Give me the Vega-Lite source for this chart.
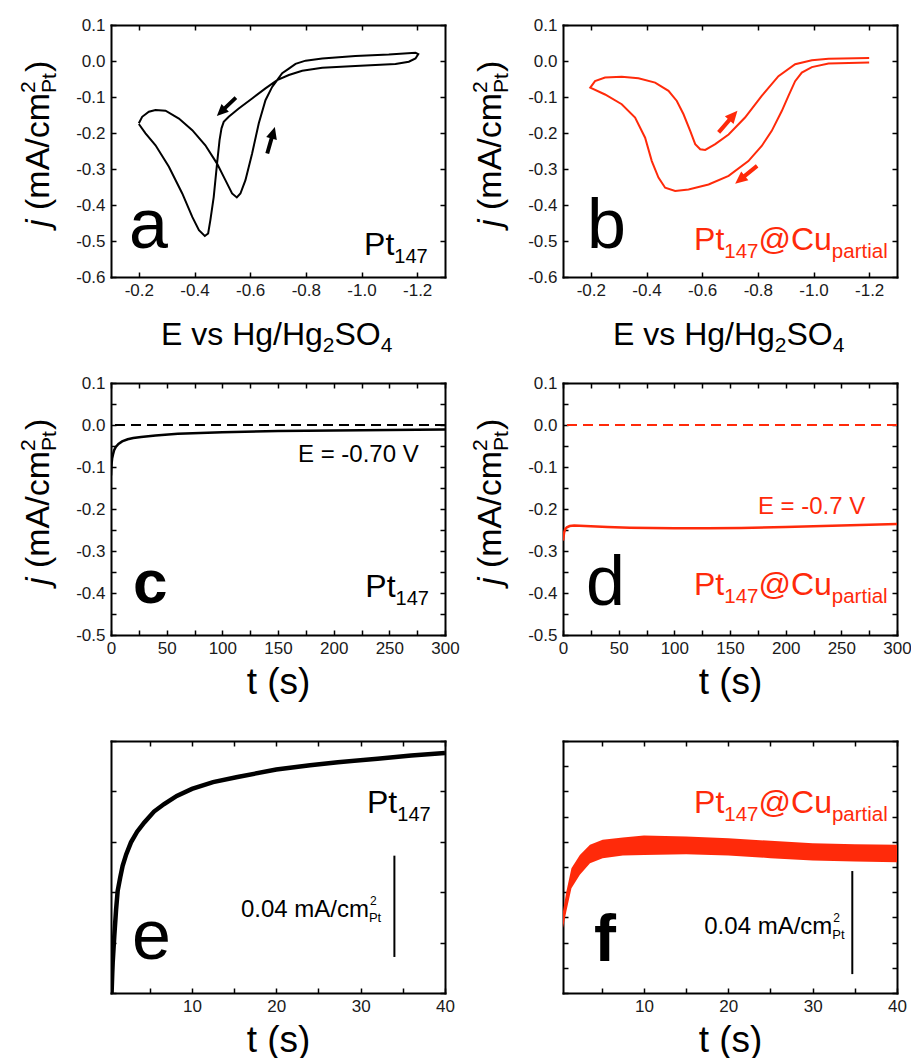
{
"$schema":"https://vega.github.io/schema/vega-lite/v6.json",
"padding":{"left":17,"top":16,"right":0,"bottom":0},
"config":{
 "view":{"stroke":null},
 "font":"Liberation Sans",
 "text":{"font":"Liberation Sans","baseline":"alphabetic","align":"left","color":"black"},
 "point":{"opacity":1,"filled":true},
 "axis":{"domainColor":"black","domainWidth":2,"domainCap":"square","tickColor":"black","tickWidth":1.5,"tickSize":-5,"labelFont":"Liberation Sans","labelFontSize":17,"labelColor":"#1a1a1a","labelFlush":false,"labelOverlap":false,"grid":false,"titleFont":"Liberation Sans","titleFontSize":37,"titleFontWeight":"normal","titleColor":"black","titlePadding":8},
 "axisX":{"labelPadding":10},
 "axisY":{"labelPadding":11}
},
"datasets":{
 "cvA":[{"i":1,"E":-0.2,"j":-0.173},{"i":2,"E":-0.212,"j":-0.155},{"i":3,"E":-0.236,"j":-0.141},{"i":4,"E":-0.26,"j":-0.136},{"i":5,"E":-0.296,"j":-0.138},{"i":6,"E":-0.344,"j":-0.16},{"i":7,"E":-0.392,"j":-0.192},{"i":8,"E":-0.439,"j":-0.234},{"i":9,"E":-0.481,"j":-0.285},{"i":10,"E":-0.511,"j":-0.331},{"i":11,"E":-0.535,"j":-0.368},{"i":12,"E":-0.552,"j":-0.379},{"i":13,"E":-0.565,"j":-0.368},{"i":14,"E":-0.583,"j":-0.331},{"i":15,"E":-0.607,"j":-0.257},{"i":16,"E":-0.631,"j":-0.173},{"i":17,"E":-0.655,"j":-0.109},{"i":18,"E":-0.679,"j":-0.072},{"i":19,"E":-0.697,"j":-0.053},{"i":20,"E":-0.715,"j":-0.034},{"i":21,"E":-0.739,"j":-0.021},{"i":22,"E":-0.763,"j":-0.008},{"i":23,"E":-0.799,"j":0.001},{"i":24,"E":-0.859,"j":0.007},{"i":25,"E":-0.978,"j":0.014},{"i":26,"E":-1.098,"j":0.018},{"i":27,"E":-1.194,"j":0.023},{"i":28,"E":-1.204,"j":0.019},{"i":29,"E":-1.194,"j":0.007},{"i":30,"E":-1.17,"j":-0.002},{"i":31,"E":-1.122,"j":-0.008},{"i":32,"E":-0.978,"j":-0.014},{"i":33,"E":-0.859,"j":-0.019},{"i":34,"E":-0.787,"j":-0.027},{"i":35,"E":-0.739,"j":-0.039},{"i":36,"E":-0.697,"j":-0.053},{"i":37,"E":-0.655,"j":-0.076},{"i":38,"E":-0.607,"j":-0.104},{"i":39,"E":-0.559,"j":-0.132},{"i":40,"E":-0.523,"j":-0.155},{"i":41,"E":-0.505,"j":-0.169},{"i":42,"E":-0.497,"j":-0.187},{"i":43,"E":-0.49,"j":-0.22},{"i":44,"E":-0.481,"j":-0.285},{"i":45,"E":-0.469,"j":-0.378},{"i":46,"E":-0.457,"j":-0.442},{"i":47,"E":-0.449,"j":-0.479},{"i":48,"E":-0.437,"j":-0.486},{"i":49,"E":-0.416,"j":-0.47},{"i":50,"E":-0.392,"j":-0.433},{"i":51,"E":-0.356,"j":-0.368},{"i":52,"E":-0.308,"j":-0.294},{"i":53,"E":-0.26,"j":-0.234},{"i":54,"E":-0.224,"j":-0.201},{"i":55,"E":-0.2,"j":-0.175}],
 "cvB":[{"i":1,"E":-1.2,"j":0.008},{"i":2,"E":-1.054,"j":0.006},{"i":3,"E":-0.994,"j":0.002},{"i":4,"E":-0.934,"j":-0.009},{"i":5,"E":-0.874,"j":-0.042},{"i":6,"E":-0.814,"j":-0.097},{"i":7,"E":-0.754,"j":-0.157},{"i":8,"E":-0.695,"j":-0.204},{"i":9,"E":-0.647,"j":-0.231},{"i":10,"E":-0.611,"j":-0.247},{"i":11,"E":-0.593,"j":-0.245},{"i":12,"E":-0.575,"j":-0.231},{"i":13,"E":-0.557,"j":-0.194},{"i":14,"E":-0.533,"j":-0.148},{"i":15,"E":-0.509,"j":-0.111},{"i":16,"E":-0.479,"j":-0.083},{"i":17,"E":-0.431,"j":-0.06},{"i":18,"E":-0.371,"j":-0.048},{"i":19,"E":-0.311,"j":-0.044},{"i":20,"E":-0.251,"j":-0.046},{"i":21,"E":-0.215,"j":-0.056},{"i":22,"E":-0.198,"j":-0.074},{"i":23,"E":-0.251,"j":-0.093},{"i":24,"E":-0.311,"j":-0.12},{"i":25,"E":-0.359,"j":-0.157},{"i":26,"E":-0.395,"j":-0.213},{"i":27,"E":-0.419,"j":-0.278},{"i":28,"E":-0.443,"j":-0.324},{"i":29,"E":-0.467,"j":-0.352},{"i":30,"E":-0.503,"j":-0.361},{"i":31,"E":-0.551,"j":-0.357},{"i":32,"E":-0.623,"j":-0.343},{"i":33,"E":-0.695,"j":-0.319},{"i":34,"E":-0.766,"j":-0.278},{"i":35,"E":-0.814,"j":-0.236},{"i":36,"E":-0.85,"j":-0.194},{"i":37,"E":-0.886,"j":-0.139},{"i":38,"E":-0.91,"j":-0.097},{"i":39,"E":-0.934,"j":-0.056},{"i":40,"E":-0.958,"j":-0.032},{"i":41,"E":-0.994,"j":-0.017},{"i":42,"E":-1.054,"j":-0.007},{"i":43,"E":-1.2,"j":-0.004}],
 "caC":[{"t":0,"j":-0.12},{"t":0.3,"j":-0.1},{"t":0.6,"j":-0.09},{"t":1,"j":-0.08},{"t":1.8,"j":-0.07},{"t":2.8,"j":-0.06},{"t":4.3,"j":-0.052},{"t":6.7,"j":-0.045},{"t":10,"j":-0.039},{"t":15,"j":-0.034},{"t":20,"j":-0.031},{"t":27,"j":-0.0284},{"t":40,"j":-0.025},{"t":60,"j":-0.021},{"t":80,"j":-0.019},{"t":100,"j":-0.017},{"t":150,"j":-0.0145},{"t":200,"j":-0.013},{"t":250,"j":-0.012},{"t":300,"j":-0.011}],
 "caD":[{"t":0,"j":-0.275},{"t":0.5,"j":-0.265},{"t":1,"j":-0.256},{"t":2,"j":-0.248},{"t":3.5,"j":-0.2435},{"t":6,"j":-0.2405},{"t":10,"j":-0.2395},{"t":20,"j":-0.2405},{"t":40,"j":-0.243},{"t":60,"j":-0.2445},{"t":80,"j":-0.2455},{"t":100,"j":-0.246},{"t":130,"j":-0.246},{"t":160,"j":-0.245},{"t":200,"j":-0.243},{"t":250,"j":-0.2395},{"t":300,"j":-0.236}],
 "zoomE":[{"t":0.45,"j":-0.122},{"t":0.55,"j":-0.112},{"t":0.6,"j":-0.108},{"t":0.79,"j":-0.0974},{"t":1.0,"j":-0.087},{"t":1.19,"j":-0.0795},{"t":1.5,"j":-0.074},{"t":1.78,"j":-0.0695},{"t":2.2,"j":-0.065},{"t":2.77,"j":-0.0602},{"t":3.5,"j":-0.056},{"t":4.35,"j":-0.0523},{"t":5.5,"j":-0.048},{"t":6.7,"j":-0.045},{"t":8.2,"j":-0.0418},{"t":10,"j":-0.039},{"t":12.5,"j":-0.0363},{"t":15.4,"j":-0.0343},{"t":20,"j":-0.0313},{"t":24,"j":-0.0296},{"t":27.3,"j":-0.0284},{"t":32,"j":-0.027},{"t":36,"j":-0.0258},{"t":40,"j":-0.0248}],
 "zoomF":[{"t":0.4,"hi":-0.2676,"lo":-0.2742},{"t":0.8,"hi":-0.2597,"lo":-0.2676},{"t":1.4,"hi":-0.2505,"lo":-0.2584},{"t":2.4,"hi":-0.2452,"lo":-0.2531},{"t":3.6,"hi":-0.2412,"lo":-0.2485},{"t":5.1,"hi":-0.2392,"lo":-0.2465},{"t":7.5,"hi":-0.2383,"lo":-0.2454},{"t":10,"hi":-0.2375,"lo":-0.2452},{"t":15,"hi":-0.2379,"lo":-0.2449},{"t":20,"hi":-0.2386,"lo":-0.2454},{"t":25,"hi":-0.2396,"lo":-0.2465},{"t":30,"hi":-0.2406,"lo":-0.2474},{"t":35,"hi":-0.241,"lo":-0.2478},{"t":40,"hi":-0.2412,"lo":-0.2481}]
},
"columns":2,
"spacing":{"row":106,"column":118},
"bounds":"flush",
"concat":[
{
 "width":334,"height":252,"data":{"values":[{}]},
 "resolve":{"axis":{"x":"independent","y":"independent"}},
 "layer":[
  {"data":{"name":"cvA"},"mark":{"type":"line","color":"black","strokeWidth":2,"clip":true},
   "encoding":{
    "x":{"field":"E","type":"quantitative","scale":{"domain":[-1.3,-0.1],"reverse":true,"nice":false,"zero":false},"axis":{"orient":"bottom","values":[-1.2,-1.0,-0.8,-0.6,-0.4,-0.2],"labelExpr":"replace(format(datum.value,'.1f'),'\u2212','-')","title":null}},
    "y":{"field":"j","type":"quantitative","scale":{"domain":[-0.6,0.1],"nice":false,"zero":false},"axis":{"orient":"left","values":[-0.6,-0.5,-0.4,-0.3,-0.2,-0.1,0,0.1],"labelExpr":"replace(format(datum.value,'.1f'),'\u2212','-')","title":null}},
    "order":{"field":"i","type":"quantitative"}}},
  {"mark":{"type":"text","text":"a","fontSize":70},
   "encoding":{"x":{"datum":-0.165,"type":"quantitative","axis":{"orient":"top","values":[-1.2,-1.0,-0.8,-0.6,-0.4,-0.2],"labels":false,"title":null}},"y":{"datum":-0.519,"type":"quantitative","axis":{"orient":"right","values":[-0.6,-0.5,-0.4,-0.3,-0.2,-0.1,0,0.1],"labels":false,"title":null}}}},
  {"mark":{"type":"point","shape":"arrow","size":700,"angle":226,"color":"black"},"encoding":{"x":{"datum":-0.5145,"type":"quantitative","axis":null},"y":{"datum":-0.127,"type":"quantitative","axis":null}}},
  {"mark":{"type":"point","shape":"arrow","size":760,"angle":16,"color":"black"},"encoding":{"x":{"datum":-0.675,"type":"quantitative","axis":null},"y":{"datum":-0.22,"type":"quantitative","axis":null}}},
  {"mark":{"type":"text","text":"147","fontSize":20,"align":"right","dy":8},"encoding":{"x":{"datum":-1.238,"type":"quantitative","axis":null},"y":{"datum":-0.539,"type":"quantitative","axis":null}}},
  {"mark":{"type":"text","text":"Pt","fontSize":32,"align":"right","dx":-33.4},"encoding":{"x":{"datum":-1.238,"type":"quantitative","axis":null},"y":{"datum":-0.539,"type":"quantitative","axis":null}}},
  {"mark":{"type":"text","text":"j","fontSize":34,"fontStyle":"italic","angle":270},"encoding":{"x":{"datum":0.1228,"type":"quantitative","axis":null},"y":{"datum":-0.461,"type":"quantitative","axis":null}}},
  {"mark":{"type":"text","text":"(mA/cm","fontSize":34,"angle":270,"dx":17},"encoding":{"x":{"datum":0.1228,"type":"quantitative","axis":null},"y":{"datum":-0.461,"type":"quantitative","axis":null}}},
  {"mark":{"type":"text","text":"2","fontSize":21,"angle":270,"dx":134,"dy":-14},"encoding":{"x":{"datum":0.1228,"type":"quantitative","axis":null},"y":{"datum":-0.461,"type":"quantitative","axis":null}}},
  {"mark":{"type":"text","text":"Pt","fontSize":21,"angle":270,"dx":134,"dy":7},"encoding":{"x":{"datum":0.1228,"type":"quantitative","axis":null},"y":{"datum":-0.461,"type":"quantitative","axis":null}}},
  {"mark":{"type":"text","text":")","fontSize":34,"angle":270,"dx":155},"encoding":{"x":{"datum":0.1228,"type":"quantitative","axis":null},"y":{"datum":-0.461,"type":"quantitative","axis":null}}},
  {"mark":{"type":"text","text":"E vs Hg/Hg","fontSize":32},"encoding":{"x":{"datum":-0.2797,"type":"quantitative","axis":null},"y":{"datum":-0.789,"type":"quantitative","axis":null}}},
  {"mark":{"type":"text","text":"2","fontSize":21,"dx":161.8,"dy":7},"encoding":{"x":{"datum":-0.2797,"type":"quantitative","axis":null},"y":{"datum":-0.789,"type":"quantitative","axis":null}}},
  {"mark":{"type":"text","text":"SO","fontSize":32,"dx":173.5},"encoding":{"x":{"datum":-0.2797,"type":"quantitative","axis":null},"y":{"datum":-0.789,"type":"quantitative","axis":null}}},
  {"mark":{"type":"text","text":"4","fontSize":21,"dx":219.7,"dy":7},"encoding":{"x":{"datum":-0.2797,"type":"quantitative","axis":null},"y":{"datum":-0.789,"type":"quantitative","axis":null}}}
 ]
},
{
 "width":334,"height":252,"data":{"values":[{}]},
 "resolve":{"axis":{"x":"independent","y":"independent"}},
 "layer":[
  {"data":{"name":"cvB"},"mark":{"type":"line","color":"#ff2a0a","strokeWidth":2,"clip":true},
   "encoding":{
    "x":{"field":"E","type":"quantitative","scale":{"domain":[-1.3,-0.1],"reverse":true,"nice":false,"zero":false},"axis":{"orient":"bottom","values":[-1.2,-1.0,-0.8,-0.6,-0.4,-0.2],"labelExpr":"replace(format(datum.value,'.1f'),'\u2212','-')","title":null}},
    "y":{"field":"j","type":"quantitative","scale":{"domain":[-0.6,0.1],"nice":false,"zero":false},"axis":{"orient":"left","values":[-0.6,-0.5,-0.4,-0.3,-0.2,-0.1,0,0.1],"labelExpr":"replace(format(datum.value,'.1f'),'\u2212','-')","title":null}},
    "order":{"field":"i","type":"quantitative"}}},
  {"mark":{"type":"text","text":"b","fontSize":70},
   "encoding":{"x":{"datum":-0.186,"type":"quantitative","axis":{"orient":"top","values":[-1.2,-1.0,-0.8,-0.6,-0.4,-0.2],"labels":false,"title":null}},"y":{"datum":-0.52,"type":"quantitative","axis":{"orient":"right","values":[-0.6,-0.5,-0.4,-0.3,-0.2,-0.1,0,0.1],"labels":false,"title":null}}}},
  {"mark":{"type":"point","shape":"arrow","size":820,"angle":41,"color":"#ff2a0a"},"encoding":{"x":{"datum":-0.693,"type":"quantitative","axis":null},"y":{"datum":-0.168,"type":"quantitative","axis":null}}},
  {"mark":{"type":"point","shape":"arrow","size":800,"angle":231,"color":"#ff2a0a"},"encoding":{"x":{"datum":-0.758,"type":"quantitative","axis":null},"y":{"datum":-0.316,"type":"quantitative","axis":null}}},
  {"mark":{"type":"text","text":"partial","fontSize":20.5,"align":"right","dy":8,"color":"#ff2a0a"},"encoding":{"x":{"datum":-1.2666,"type":"quantitative","axis":null},"y":{"datum":-0.525,"type":"quantitative","axis":null}}},
  {"mark":{"type":"text","text":"@Cu","fontSize":32,"align":"right","dx":-55.8,"color":"#ff2a0a"},"encoding":{"x":{"datum":-1.2666,"type":"quantitative","axis":null},"y":{"datum":-0.525,"type":"quantitative","axis":null}}},
  {"mark":{"type":"text","text":"147","fontSize":20.5,"align":"right","dx":-129.2,"dy":8,"color":"#ff2a0a"},"encoding":{"x":{"datum":-1.2666,"type":"quantitative","axis":null},"y":{"datum":-0.525,"type":"quantitative","axis":null}}},
  {"mark":{"type":"text","text":"Pt","fontSize":32,"align":"right","dx":-163.4,"color":"#ff2a0a"},"encoding":{"x":{"datum":-1.2666,"type":"quantitative","axis":null},"y":{"datum":-0.525,"type":"quantitative","axis":null}}},
  {"mark":{"type":"text","text":"j","fontSize":34,"fontStyle":"italic","angle":270},"encoding":{"x":{"datum":0.1228,"type":"quantitative","axis":null},"y":{"datum":-0.461,"type":"quantitative","axis":null}}},
  {"mark":{"type":"text","text":"(mA/cm","fontSize":34,"angle":270,"dx":17},"encoding":{"x":{"datum":0.1228,"type":"quantitative","axis":null},"y":{"datum":-0.461,"type":"quantitative","axis":null}}},
  {"mark":{"type":"text","text":"2","fontSize":21,"angle":270,"dx":134,"dy":-14},"encoding":{"x":{"datum":0.1228,"type":"quantitative","axis":null},"y":{"datum":-0.461,"type":"quantitative","axis":null}}},
  {"mark":{"type":"text","text":"Pt","fontSize":21,"angle":270,"dx":134,"dy":7},"encoding":{"x":{"datum":0.1228,"type":"quantitative","axis":null},"y":{"datum":-0.461,"type":"quantitative","axis":null}}},
  {"mark":{"type":"text","text":")","fontSize":34,"angle":270,"dx":155},"encoding":{"x":{"datum":0.1228,"type":"quantitative","axis":null},"y":{"datum":-0.461,"type":"quantitative","axis":null}}},
  {"mark":{"type":"text","text":"E vs Hg/Hg","fontSize":32},"encoding":{"x":{"datum":-0.2797,"type":"quantitative","axis":null},"y":{"datum":-0.789,"type":"quantitative","axis":null}}},
  {"mark":{"type":"text","text":"2","fontSize":21,"dx":161.8,"dy":7},"encoding":{"x":{"datum":-0.2797,"type":"quantitative","axis":null},"y":{"datum":-0.789,"type":"quantitative","axis":null}}},
  {"mark":{"type":"text","text":"SO","fontSize":32,"dx":173.5},"encoding":{"x":{"datum":-0.2797,"type":"quantitative","axis":null},"y":{"datum":-0.789,"type":"quantitative","axis":null}}},
  {"mark":{"type":"text","text":"4","fontSize":21,"dx":219.7,"dy":7},"encoding":{"x":{"datum":-0.2797,"type":"quantitative","axis":null},"y":{"datum":-0.789,"type":"quantitative","axis":null}}}
 ]
},
{
 "width":334,"height":252,"data":{"values":[{}]},
 "resolve":{"axis":{"x":"independent","y":"independent"}},
 "layer":[
  {"data":{"name":"caC"},"mark":{"type":"line","color":"black","strokeWidth":2.5,"clip":true},
   "encoding":{
    "x":{"field":"t","type":"quantitative","scale":{"domain":[0,300],"nice":false,"zero":false},"axis":{"orient":"bottom","values":[0,25,50,75,100,125,150,175,200,225,250,275,300],"labelExpr":"datum.value % 50 === 0 ? format(datum.value,'d') : ''","title":"t (s)"}},
    "y":{"field":"j","type":"quantitative","scale":{"domain":[-0.5,0.1],"nice":false,"zero":false},"axis":{"orient":"left","values":[-0.5,-0.45,-0.4,-0.35,-0.3,-0.25,-0.2,-0.15,-0.1,-0.05,0,0.05,0.1],"labelExpr":"abs(datum.value*10-round(datum.value*10))<0.001 ? replace(format(datum.value,'.1f'),'\u2212','-') : ''","title":null}}}},
  {"mark":{"type":"rule","color":"black","strokeWidth":2,"strokeDash":[10,6]},"encoding":{"y":{"datum":0,"type":"quantitative","axis":null}}},
  {"mark":{"type":"text","text":"c","fontSize":62,"fontWeight":"bold"},
   "encoding":{"x":{"datum":19.8,"type":"quantitative","axis":{"orient":"top","values":[0,25,50,75,100,125,150,175,200,225,250,275,300],"labels":false,"title":null}},"y":{"datum":-0.424,"type":"quantitative","axis":{"orient":"right","values":[-0.5,-0.45,-0.4,-0.35,-0.3,-0.25,-0.2,-0.15,-0.1,-0.05,0,0.05,0.1],"labels":false,"title":null}}}},
  {"mark":{"type":"text","text":"E = -0.70 V","fontSize":24,"align":"right"},"encoding":{"x":{"datum":276.4,"type":"quantitative","axis":null},"y":{"datum":-0.0874,"type":"quantitative","axis":null}}},
  {"mark":{"type":"text","text":"147","fontSize":20,"align":"right","dy":8},"encoding":{"x":{"datum":285.6,"type":"quantitative","axis":null},"y":{"datum":-0.409,"type":"quantitative","axis":null}}},
  {"mark":{"type":"text","text":"Pt","fontSize":32,"align":"right","dx":-33.4},"encoding":{"x":{"datum":285.6,"type":"quantitative","axis":null},"y":{"datum":-0.409,"type":"quantitative","axis":null}}},
  {"mark":{"type":"text","text":"j","fontSize":34,"fontStyle":"italic","angle":270},"encoding":{"x":{"datum":-55.7,"type":"quantitative","axis":null},"y":{"datum":-0.381,"type":"quantitative","axis":null}}},
  {"mark":{"type":"text","text":"(mA/cm","fontSize":34,"angle":270,"dx":17},"encoding":{"x":{"datum":-55.7,"type":"quantitative","axis":null},"y":{"datum":-0.381,"type":"quantitative","axis":null}}},
  {"mark":{"type":"text","text":"2","fontSize":21,"angle":270,"dx":134,"dy":-14},"encoding":{"x":{"datum":-55.7,"type":"quantitative","axis":null},"y":{"datum":-0.381,"type":"quantitative","axis":null}}},
  {"mark":{"type":"text","text":"Pt","fontSize":21,"angle":270,"dx":134,"dy":7},"encoding":{"x":{"datum":-55.7,"type":"quantitative","axis":null},"y":{"datum":-0.381,"type":"quantitative","axis":null}}},
  {"mark":{"type":"text","text":")","fontSize":34,"angle":270,"dx":155},"encoding":{"x":{"datum":-55.7,"type":"quantitative","axis":null},"y":{"datum":-0.381,"type":"quantitative","axis":null}}}
 ]
},
{
 "width":334,"height":252,"data":{"values":[{}]},
 "resolve":{"axis":{"x":"independent","y":"independent"}},
 "layer":[
  {"data":{"name":"caD"},"mark":{"type":"line","color":"#ff2a0a","strokeWidth":2.5,"clip":true},
   "encoding":{
    "x":{"field":"t","type":"quantitative","scale":{"domain":[0,300],"nice":false,"zero":false},"axis":{"orient":"bottom","values":[0,25,50,75,100,125,150,175,200,225,250,275,300],"labelExpr":"datum.value % 50 === 0 ? format(datum.value,'d') : ''","title":"t (s)"}},
    "y":{"field":"j","type":"quantitative","scale":{"domain":[-0.5,0.1],"nice":false,"zero":false},"axis":{"orient":"left","values":[-0.5,-0.45,-0.4,-0.35,-0.3,-0.25,-0.2,-0.15,-0.1,-0.05,0,0.05,0.1],"labelExpr":"abs(datum.value*10-round(datum.value*10))<0.001 ? replace(format(datum.value,'.1f'),'\u2212','-') : ''","title":null}}}},
  {"mark":{"type":"rule","color":"#ff2a0a","strokeWidth":2,"strokeDash":[10,6]},"encoding":{"y":{"datum":0,"type":"quantitative","axis":null}}},
  {"mark":{"type":"text","text":"d","fontSize":70},
   "encoding":{"x":{"datum":20.7,"type":"quantitative","axis":{"orient":"top","values":[0,25,50,75,100,125,150,175,200,225,250,275,300],"labels":false,"title":null}},"y":{"datum":-0.429,"type":"quantitative","axis":{"orient":"right","values":[-0.5,-0.45,-0.4,-0.35,-0.3,-0.25,-0.2,-0.15,-0.1,-0.05,0,0.05,0.1],"labels":false,"title":null}}}},
  {"mark":{"type":"text","text":"E = -0.7 V","fontSize":24,"align":"right","color":"#ff2a0a"},"encoding":{"x":{"datum":271.5,"type":"quantitative","axis":null},"y":{"datum":-0.212,"type":"quantitative","axis":null}}},
  {"mark":{"type":"text","text":"partial","fontSize":20.5,"align":"right","dy":8,"color":"#ff2a0a"},"encoding":{"x":{"datum":291.6,"type":"quantitative","axis":null},"y":{"datum":-0.405,"type":"quantitative","axis":null}}},
  {"mark":{"type":"text","text":"@Cu","fontSize":32,"align":"right","dx":-55.8,"color":"#ff2a0a"},"encoding":{"x":{"datum":291.6,"type":"quantitative","axis":null},"y":{"datum":-0.405,"type":"quantitative","axis":null}}},
  {"mark":{"type":"text","text":"147","fontSize":20.5,"align":"right","dx":-129.2,"dy":8,"color":"#ff2a0a"},"encoding":{"x":{"datum":291.6,"type":"quantitative","axis":null},"y":{"datum":-0.405,"type":"quantitative","axis":null}}},
  {"mark":{"type":"text","text":"Pt","fontSize":32,"align":"right","dx":-163.4,"color":"#ff2a0a"},"encoding":{"x":{"datum":291.6,"type":"quantitative","axis":null},"y":{"datum":-0.405,"type":"quantitative","axis":null}}},
  {"mark":{"type":"text","text":"j","fontSize":34,"fontStyle":"italic","angle":270},"encoding":{"x":{"datum":-55.7,"type":"quantitative","axis":null},"y":{"datum":-0.381,"type":"quantitative","axis":null}}},
  {"mark":{"type":"text","text":"(mA/cm","fontSize":34,"angle":270,"dx":17},"encoding":{"x":{"datum":-55.7,"type":"quantitative","axis":null},"y":{"datum":-0.381,"type":"quantitative","axis":null}}},
  {"mark":{"type":"text","text":"2","fontSize":21,"angle":270,"dx":134,"dy":-14},"encoding":{"x":{"datum":-55.7,"type":"quantitative","axis":null},"y":{"datum":-0.381,"type":"quantitative","axis":null}}},
  {"mark":{"type":"text","text":"Pt","fontSize":21,"angle":270,"dx":134,"dy":7},"encoding":{"x":{"datum":-55.7,"type":"quantitative","axis":null},"y":{"datum":-0.381,"type":"quantitative","axis":null}}},
  {"mark":{"type":"text","text":")","fontSize":34,"angle":270,"dx":155},"encoding":{"x":{"datum":-55.7,"type":"quantitative","axis":null},"y":{"datum":-0.381,"type":"quantitative","axis":null}}}
 ]
},
{
 "width":334,"height":252,"data":{"values":[{}]},
 "resolve":{"axis":{"x":"independent","y":"independent"}},
 "layer":[
  {"data":{"name":"zoomE"},"mark":{"type":"line","color":"black","strokeWidth":4.5,"clip":true},
   "encoding":{
    "x":{"field":"t","type":"quantitative","scale":{"domain":[0.4,40],"nice":false,"zero":false},"axis":{"orient":"bottom","values":[5,10,15,20,25,30,35,40],"labelExpr":"datum.value % 10 === 0 ? format(datum.value,'d') : ''","title":"t (s)"}},
    "y":{"field":"j","type":"quantitative","scale":{"domain":[-0.12,-0.02],"nice":false,"zero":false},"axis":{"orient":"left","values":[-0.12,-0.1,-0.08,-0.06,-0.04,-0.02],"labels":false,"title":null}}}},
  {"mark":{"type":"text","text":"e","fontSize":70},
   "encoding":{"x":{"datum":2.9,"type":"quantitative","axis":{"orient":"top","values":[5,10,15,20,25,30,35,40],"labels":false,"title":null}},"y":{"datum":-0.1065,"type":"quantitative","axis":{"orient":"right","values":[-0.12,-0.1,-0.08,-0.06,-0.04,-0.02],"labels":false,"title":null}}}},
  {"mark":{"type":"text","text":"147","fontSize":20,"align":"right","dy":8},"encoding":{"x":{"datum":38.3,"type":"quantitative","axis":null},"y":{"datum":-0.0486,"type":"quantitative","axis":null}}},
  {"mark":{"type":"text","text":"Pt","fontSize":32,"align":"right","dx":-33.4},"encoding":{"x":{"datum":38.3,"type":"quantitative","axis":null},"y":{"datum":-0.0486,"type":"quantitative","axis":null}}},
  {"mark":{"type":"rule","color":"black","strokeWidth":2},"encoding":{"x":{"datum":34.0,"type":"quantitative","axis":null},"y":{"datum":-0.0655,"type":"quantitative","axis":null},"y2":{"datum":-0.1057}}},
  {"mark":{"type":"text","text":"0.04 mA/cm","fontSize":24},"encoding":{"x":{"datum":15.8,"type":"quantitative","axis":null},"y":{"datum":-0.09,"type":"quantitative","axis":null}}},
  {"mark":{"type":"text","text":"2","fontSize":12,"dx":129,"dy":-12},"encoding":{"x":{"datum":15.8,"type":"quantitative","axis":null},"y":{"datum":-0.09,"type":"quantitative","axis":null}}},
  {"mark":{"type":"text","text":"Pt","fontSize":13,"dx":128,"dy":5},"encoding":{"x":{"datum":15.8,"type":"quantitative","axis":null},"y":{"datum":-0.09,"type":"quantitative","axis":null}}}
 ]
},
{
 "width":334,"height":252,"data":{"values":[{}]},
 "resolve":{"axis":{"x":"independent","y":"independent"}},
 "layer":[
  {"data":{"name":"zoomF"},"mark":{"type":"area","color":"#ff2a0a","opacity":1,"clip":true},
   "encoding":{
    "x":{"field":"t","type":"quantitative","scale":{"domain":[0.4,40],"nice":false,"zero":false},"axis":{"orient":"bottom","values":[5,10,15,20,25,30,35,40],"labelExpr":"datum.value % 10 === 0 ? format(datum.value,'d') : ''","title":"t (s)"}},
    "y":{"field":"hi","type":"quantitative","scale":{"domain":[-0.3,-0.2],"nice":false,"zero":false},"axis":{"orient":"left","values":[-0.3,-0.29,-0.28,-0.27,-0.26,-0.25,-0.24,-0.23,-0.22,-0.21,-0.2],"labels":false,"title":null}},
    "y2":{"field":"lo"}}},
  {"mark":{"type":"text","text":"f","fontSize":66,"fontWeight":"bold"},
   "encoding":{"x":{"datum":4.08,"type":"quantitative","axis":{"orient":"top","values":[5,10,15,20,25,30,35,40],"labels":false,"title":null}},"y":{"datum":-0.2873,"type":"quantitative","axis":{"orient":"right","values":[-0.3,-0.29,-0.28,-0.27,-0.26,-0.25,-0.24,-0.23,-0.22,-0.21,-0.2],"labels":false,"title":null}}}},
  {"mark":{"type":"text","text":"partial","fontSize":20.5,"align":"right","dy":8,"color":"#ff2a0a"},"encoding":{"x":{"datum":38.9,"type":"quantitative","axis":null},"y":{"datum":-0.2287,"type":"quantitative","axis":null}}},
  {"mark":{"type":"text","text":"@Cu","fontSize":32,"align":"right","dx":-55.8,"color":"#ff2a0a"},"encoding":{"x":{"datum":38.9,"type":"quantitative","axis":null},"y":{"datum":-0.2287,"type":"quantitative","axis":null}}},
  {"mark":{"type":"text","text":"147","fontSize":20.5,"align":"right","dx":-129.2,"dy":8,"color":"#ff2a0a"},"encoding":{"x":{"datum":38.9,"type":"quantitative","axis":null},"y":{"datum":-0.2287,"type":"quantitative","axis":null}}},
  {"mark":{"type":"text","text":"Pt","fontSize":32,"align":"right","dx":-163.4,"color":"#ff2a0a"},"encoding":{"x":{"datum":38.9,"type":"quantitative","axis":null},"y":{"datum":-0.2287,"type":"quantitative","axis":null}}},
  {"mark":{"type":"rule","color":"black","strokeWidth":2},"encoding":{"x":{"datum":34.7,"type":"quantitative","axis":null},"y":{"datum":-0.2516,"type":"quantitative","axis":null},"y2":{"datum":-0.2925}}},
  {"mark":{"type":"text","text":"0.04 mA/cm","fontSize":24},"encoding":{"x":{"datum":17.15,"type":"quantitative","axis":null},"y":{"datum":-0.2765,"type":"quantitative","axis":null}}},
  {"mark":{"type":"text","text":"2","fontSize":12,"dx":129,"dy":-12},"encoding":{"x":{"datum":17.15,"type":"quantitative","axis":null},"y":{"datum":-0.2765,"type":"quantitative","axis":null}}},
  {"mark":{"type":"text","text":"Pt","fontSize":13,"dx":128,"dy":5},"encoding":{"x":{"datum":17.15,"type":"quantitative","axis":null},"y":{"datum":-0.2765,"type":"quantitative","axis":null}}}
 ]
}
]
}
